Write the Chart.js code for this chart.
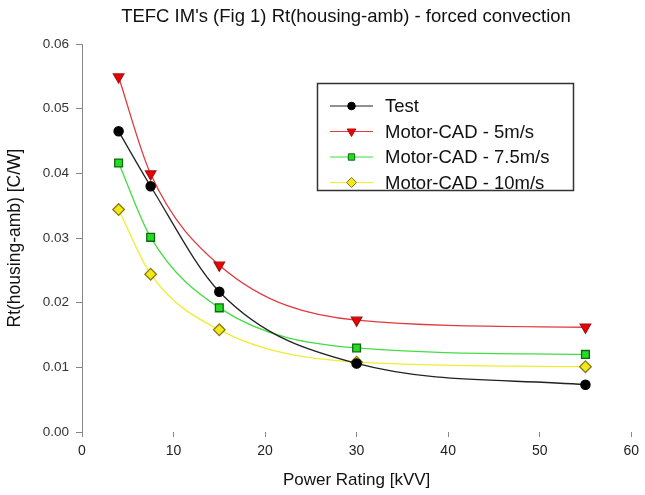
<!DOCTYPE html>
<html>
<head>
<meta charset="utf-8">
<script src="https://cdn.jsdelivr.net/npm/chart.js@4"></script>
<style>
  html, body { margin: 0; padding: 0; background: #fff; }
  #wrap { width: 645px; height: 495px; }
</style>
</head>
<body>
<div id="wrap"><canvas id="chart" width="645" height="495"></canvas></div>
<script>
// power ratings (kW)
const powerKW = [4, 7.5, 15, 30, 55];

// thermal resistance housing-ambient [C/W]
const testValues = [0.0465, 0.0380, 0.0217, 0.0106, 0.0073];
const cad5Values = [0.0549, 0.0399, 0.0258, 0.0173, 0.0162];
const cad75Values = [0.0416, 0.0301, 0.0192, 0.0130, 0.0120];
const cad10Values = [0.0344, 0.0244, 0.0158, 0.0108, 0.0101];

const seriesLabels = ["Test", "Motor-CAD - 5m/s", "Motor-CAD - 7.5m/s", "Motor-CAD - 10m/s"];
const xTicks = [0, 10, 20, 30, 40, 50, 60];
const yTicks = [0, 0.01, 0.02, 0.03, 0.04, 0.05, 0.06];

const FONT = "'Liberation Sans', Arial, sans-serif";

function toPoints(vals) {
    return powerKW.map((x, i) => ({ x: x, y: vals[i] }));
}

// smaller markers inside the legend box
const legendRadius = [3.8, 5, 4.5, 5];

// title + legend drawn by hand
const extrasPlugin = {
    id: "extras",
    afterDraw(chart) {
        const c = chart.ctx;
        c.save();
        c.fillStyle = "#111";
        c.font = "18.5px " + FONT;
        c.textAlign = "center";
        c.textBaseline = "middle";
        c.fillText("TEFC IM's (Fig 1) Rt(housing-amb) - forced convection", 346, 17);

        // legend box
        c.strokeStyle = "#333";
        c.lineWidth = 1.5;
        c.strokeRect(317.5, 83.5, 256, 107);
        c.font = "18.5px " + FONT;
        c.textAlign = "left";
        chart.data.datasets.forEach((ds, i) => {
            const y = 106 + i * 25.5;
            c.strokeStyle = ds.borderColor;
            c.lineWidth = 1.2;
            c.beginPath();
            c.moveTo(330, y);
            c.lineTo(373, y);
            c.stroke();
            c.fillStyle = ds.pointBackgroundColor;
            c.strokeStyle = ds.pointBorderColor;
            c.lineWidth = 1;
            Chart.helpers.drawPoint(c, {
                pointStyle: ds.pointStyle,
                radius: legendRadius[i],
                rotation: ds.pointRotation || 0,
                borderWidth: 1
            }, 351.5, y);
            c.fillStyle = "#111";
            c.fillText(ds.label, 385, y + 1);
        });
        c.restore();
    }
};

const ctx = document.getElementById("chart").getContext("2d");
const chart = new Chart(ctx, {
    type: "line",
    data: {
        datasets: [
            {
                label: seriesLabels[0], data: toPoints(testValues),
                borderColor: "#222", borderWidth: 1.3,
                pointStyle: "circle", pointRadius: 4.6,
                pointBackgroundColor: "#000", pointBorderColor: "#000"
            },
            {
                label: seriesLabels[1], data: toPoints(cad5Values),
                borderColor: "#e03a40", borderWidth: 1.3,
                pointStyle: "triangle", pointRotation: 180, pointRadius: 6,
                pointBackgroundColor: "#ee0000", pointBorderColor: "#aa1010"
            },
            {
                label: seriesLabels[2], data: toPoints(cad75Values),
                borderColor: "#44dd44", borderWidth: 1.3,
                pointStyle: "rect", pointRadius: 5.5,
                pointBackgroundColor: "#22dd22", pointBorderColor: "#116611"
            },
            {
                label: seriesLabels[3], data: toPoints(cad10Values),
                borderColor: "#eeee33", borderWidth: 1.3,
                pointStyle: "rectRot", pointRadius: 5.8,
                pointBackgroundColor: "#f2e81c", pointBorderColor: "#8a7a10"
            }
        ]
    },
    options: {
        responsive: false,
        animation: false,
        layout: { padding: { top: 44, right: 13, left: 0, bottom: 0 } },
        elements: {
            line: { cubicInterpolationMode: "monotone", fill: false },
            point: { borderWidth: 1 }
        },
        plugins: {
            legend: { display: false },
            title: { display: false },
            tooltip: { enabled: false }
        },
        scales: {
            x: {
                type: "linear", min: 0, max: 60,
                afterFit(scale) { scale.height = 63; },
                afterBuildTicks(scale) { scale.ticks = xTicks.map(v => ({ value: v })); },
                border: { display: false },
                grid: { drawOnChartArea: false, drawTicks: true, tickLength: 5, color: "#888" },
                ticks: { color: "#222", font: { family: FONT, size: 14 }, padding: 6 },
                title: { display: true, text: "Power Rating [kVV]", color: "#111",
                         font: { family: FONT, size: 17 }, padding: { top: 4 } }
            },
            y: {
                type: "linear", min: 0, max: 0.06,
                afterFit(scale) { scale.width = 82; },
                afterBuildTicks(scale) { scale.ticks = yTicks.map(v => ({ value: v })); },
                border: { display: true, color: "#888", width: 1 },
                grid: { drawOnChartArea: false, drawTicks: true, tickLength: 6, color: "#888" },
                ticks: {
                    color: "#333", font: { family: FONT, size: 13.5 }, padding: 7,
                    callback: v => v.toFixed(2)
                },
                title: { display: true, text: "Rt(housing-amb) [C/W]", color: "#111",
                         font: { family: FONT, size: 17.5 }, padding: { top: 5, bottom: 0 } }
            }
        }
    },
    plugins: [extrasPlugin]
});
</script>
</body>
</html>
